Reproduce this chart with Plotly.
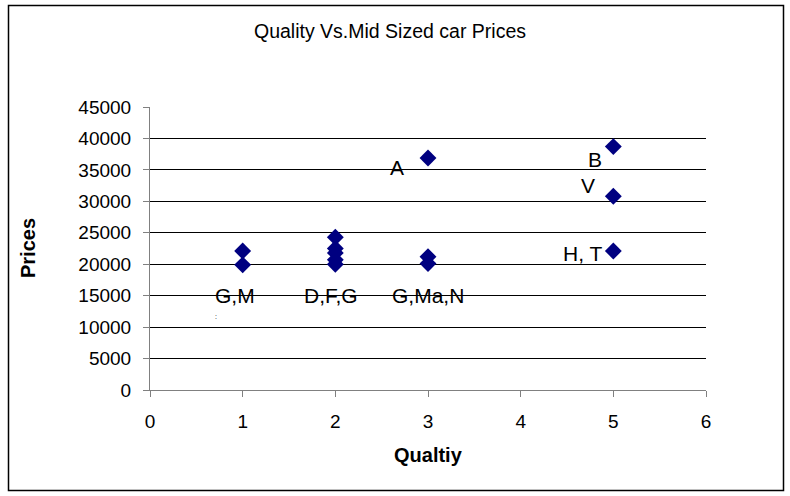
import plotly.graph_objects as go

# Data
quality = [1, 1, 2, 2, 2, 2, 2, 3, 3, 3, 5, 5, 5]
prices = [22100, 19900, 24300, 22500, 21800, 20700, 20000, 36900, 21200, 20100, 38700, 30800, 22100]

# Point labels (text, x, y) as placed in the chart
label_text = ["A", "B", "V", "H, T", "G,M", "D,F,G", "G,Ma,N", ":"]
label_x = [2.665, 4.80, 4.73, 4.67, 0.912, 1.953, 3.0, 0.709]
label_y = [35460, 36730, 32440, 21780, 14950, 14950, 14950, 11650]
label_size = [21, 21, 21, 21, 21, 21, 21, 7]

x_ticks = [0, 1, 2, 3, 4, 5, 6]
y_ticks = [0, 5000, 10000, 15000, 20000, 25000, 30000, 35000, 40000, 45000]

FONT = "Liberation Sans, Arial, sans-serif"

fig = go.Figure()
fig.add_trace(go.Scatter(
    x=quality, y=prices, mode="markers",
    marker=dict(symbol="diamond", size=13, color="#000080", line=dict(width=0)),
    showlegend=False, hoverinfo="x+y",
))

for t, lx, ly, s in zip(label_text, label_x, label_y, label_size):
    fig.add_annotation(x=lx, y=ly, text=t, showarrow=False,
                       font=dict(family=FONT, size=s, color="#000"),
                       xanchor="center", yanchor="middle")

W, H = 790, 496
L, R, T, B = 150, 84, 107, 106
pw, ph = W - L - R, H - T - B


def px(xp):
    return (xp - L) / pw


def py(yp):
    return (H - B - yp) / ph


# outer chart frame
fig.add_shape(type="rect", xref="paper", yref="paper", x0=px(8.5), x1=px(783.5), y0=py(490.5), y1=py(5.5),
              line=dict(color="#000", width=1.5), fillcolor="rgba(0,0,0,0)", layer="below")

# axis titles
fig.add_annotation(xref="paper", yref="paper", x=px(428), y=py(455), text="<b>Qualtiy</b>",
                   showarrow=False, xanchor="center", yanchor="middle",
                   font=dict(family=FONT, size=20, color="#000"))
fig.add_annotation(xref="paper", yref="paper", x=px(28), y=py(248), text="<b>Prices</b>",
                   showarrow=False, xanchor="center", yanchor="middle", textangle=-90,
                   font=dict(family=FONT, size=20, color="#000"))

fig.update_layout(
    width=W, height=H,
    margin=dict(l=L, r=R, t=T, b=B),
    paper_bgcolor="white", plot_bgcolor="white",
    font=dict(family=FONT, size=19, color="#000"),
    title=dict(text="Quality Vs.Mid Sized car Prices", x=px(390), xref="paper",
               xanchor="center", y=1 - 31 / H, yanchor="middle",
               font=dict(family=FONT, size=19.5, color="#000")),
)
fig.update_xaxes(
    range=[0, 6], tickvals=x_ticks, ticktext=[str(v) for v in x_ticks],
    showgrid=False, zeroline=False,
    showline=True, linecolor="#808080", linewidth=1,
    ticks="outside", ticklen=6, tickcolor="#808080",
    ticklabelstandoff=8,
    tickfont=dict(family=FONT, size=19, color="#000"),
    fixedrange=True,
)
fig.update_yaxes(
    range=[0, 45000], tickvals=y_ticks, ticktext=[str(v) for v in y_ticks],
    showgrid=True, gridcolor="#000", gridwidth=1,
    zeroline=False,
    showline=True, linecolor="#808080", linewidth=1,
    ticks="outside", ticklen=6, tickcolor="#808080",
    ticklabelstandoff=8,
    tickfont=dict(family=FONT, size=19, color="#000"),
    fixedrange=True,
)

fig.write_html("out.html", config={"displayModeBar": False},
               post_script="document.body.style.margin='0px';")
